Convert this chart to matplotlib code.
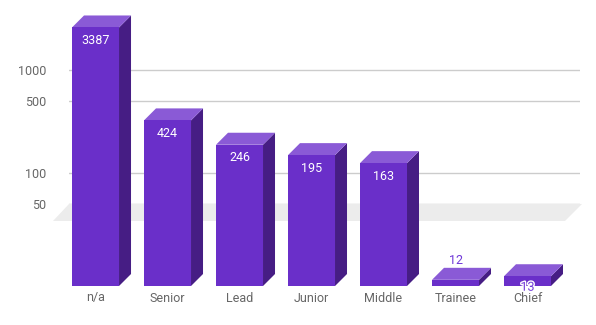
import numpy as np
import matplotlib
matplotlib.use("Agg")
import matplotlib.pyplot as plt
from matplotlib.patches import Polygon, Rectangle
from matplotlib.transforms import ScaledTranslation
import matplotlib.patheffects as pe

categories = ["n/a", "Senior", "Lead", "Junior", "Middle", "Trainee", "Chief"]
values = [3387, 424, 246, 195, 163, 12, 13]
yticks = [50, 100, 500, 1000]
ytick_labels = ["50", "100", "500", "1000"]

plt.rcParams['font.family'] = ['Roboto', 'DejaVu Sans']

W, H, DPI = 596, 325, 100
fig = plt.figure(figsize=(W / DPI, H / DPI), dpi=DPI)

# axes geometry in pixels (back plane)
ax_l, ax_r, ax_t, ax_b = 69, 580, 10, 274
ax = fig.add_axes([ax_l / W, (H - ax_b) / H, (ax_r - ax_l) / W, (ax_b - ax_t) / H])
ax.set_yscale("log")
ymin, ymax = 10.45, 3828
xmin, xmax = -0.535, 6.5625
ax.set_ylim(ymin, ymax)
ax.set_xlim(xmin, xmax)
for s in ax.spines.values():
    s.set_visible(False)
ax.set_xticks([])
ax.set_yticks(yticks)
ax.set_yticklabels(ytick_labels)
ax.yaxis.set_minor_locator(matplotlib.ticker.NullLocator())
ax.tick_params(axis="y", length=0, pad=16.5, labelsize=9, labelcolor="#666666")
ax.grid(axis="y", color="#cccccc", linewidth=1.0)
ax.set_axisbelow(True)
ax.patch.set_alpha(0)

px_per_x = (ax_r - ax_l) / (xmax - xmin)
px_per_dec = (ax_b - ax_t) / (np.log10(ymax) - np.log10(ymin))

def shift(x, y, dxp, dyp):
    return x + dxp / px_per_x, y * 10 ** (dyp / px_per_dec)

# floor
fl = [(xmin, 50), (xmax + 2 / px_per_x, 50),
      shift(xmax + 2 / px_per_x, 50, -17, -17), shift(xmin, 50, -16, -17)]
ax.add_patch(Polygon(fl, closed=True, facecolor="#ececec", edgecolor="none",
                     zorder=1, clip_on=False))

front_c = "#6a2fc9"
side_c = "#461d84"
top_c = "#8a5ad6"
d = 12
bw = 47 / px_per_x

for i, v in enumerate(values):
    xl, xr = i - bw / 2, i + bw / 2
    fxl, fy0 = shift(xl, ymin, -d, -d)
    fxr, fv = shift(xr, v, -d, -d)
    # side
    ax.add_patch(Polygon([(xr, v), (xr, ymin), (fxr, fy0), (fxr, fv)],
                         facecolor=side_c, edgecolor="none", zorder=3, clip_on=False))
    # top
    ax.add_patch(Polygon([(xl, v), (xr, v), (fxr, fv), (fxl, fv)],
                         facecolor=top_c, edgecolor="none", zorder=3, clip_on=False))
    # front
    ax.add_patch(Polygon([(fxl, fy0), (fxr, fy0), (fxr, fv), (fxl, fv)],
                         facecolor=front_c, edgecolor="none", zorder=4, clip_on=False))
    # category label
    ax.annotate(categories[i], xy=(i, 0), xycoords=ax.get_xaxis_transform(),
                xytext=(-d, -24), textcoords="offset pixels", ha="center", va="center",
                fontsize=9, color="#666666", annotation_clip=False)
    # value label
    if v >= 50:
        ax.annotate(str(v), xy=(i, v), xytext=(-d, -d - 13), textcoords="offset pixels",
                    ha="center", va="center", fontsize=9, color="white", zorder=6,
                    annotation_clip=False)
    elif categories[i] == "Trainee":
        ax.annotate(str(v), xy=(i, v), xytext=(-d, -d + 19), textcoords="offset pixels",
                    ha="center", va="center", fontsize=9, color="#7038d8", zorder=6,
                    annotation_clip=False)
    else:
        ax.annotate(str(v), xy=(i, v), xytext=(-d, -d - 11), textcoords="offset pixels",
                    ha="center", va="center", fontsize=9, color="#7038d8", zorder=6,
                    annotation_clip=False,
                    path_effects=[pe.withStroke(linewidth=2, foreground="white")])

fig.savefig("out.png", dpi=DPI)
